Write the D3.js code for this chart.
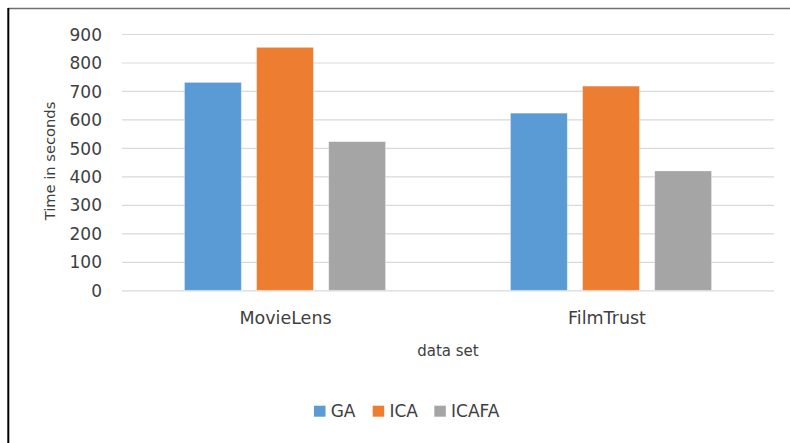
<!DOCTYPE html>
<html>
<head>
<meta charset="utf-8">
<script src="https://cdn.jsdelivr.net/npm/d3@7"></script>
<style>
  html, body { margin: 0; padding: 0; background: #fff; }
  svg { display: block; font-family: "DejaVu Sans", "Open Sans", sans-serif; }
</style>
</head>
<body>
<svg id="chart" width="790" height="443"></svg>
<script>
const categories = ["MovieLens", "FilmTrust"];
const seriesNames = ["GA", "ICA", "ICAFA"];
const GA = [730, 622];
const ICA = [853, 717];
const ICAFA = [522, 419];
const yTicks = [0, 100, 200, 300, 400, 500, 600, 700, 800, 900];
const colors = ["#5B9BD5", "#ED7D31", "#A5A5A5"];
const yTitle = "Time in seconds";
const xTitle = "data set";

(function () {
const FONT = "'DejaVu Sans', 'Open Sans', sans-serif";
const seriesValues = [GA, ICA, ICAFA];
const data = categories.map((c, i) => ({
  cat: c,
  vals: seriesNames.map((s, j) => ({ s, v: seriesValues[j][i], color: colors[j] }))
}));

const svg = d3.select("#chart");
const W = 790, H = 443;
const pLeft = 122, pRight = 774, pTop = 34, pBottom = 290.3;

// frame
svg.append("line").attr("x1", 8).attr("x2", W).attr("y1", 8.6).attr("y2", 8.6)
  .attr("stroke", "#707070").attr("stroke-width", 1.5);
svg.append("line").attr("x1", 8.3).attr("x2", 8.3).attr("y1", 7.9).attr("y2", H)
  .attr("stroke", "#000").attr("stroke-width", 2);

const x = d3.scaleBand().domain(categories).range([pLeft, pRight]).paddingInner(0).paddingOuter(0);
const y = d3.scaleLinear().domain([0, 900]).range([pBottom, pTop]);

// gridlines + tick labels
const yAxis = d3.axisLeft(y).tickValues(yTicks).tickSize(-(pRight - pLeft)).tickPadding(20).tickFormat(d3.format("d"));
const gy = svg.append("g").attr("transform", `translate(${pLeft},0)`).call(yAxis);
gy.select(".domain").remove();
gy.selectAll(".tick line").attr("stroke", "#D9D9D9").attr("stroke-width", 1.2);
gy.selectAll(".tick text").attr("fill", "#404040").style("font-size", "17px")
  .style("font-family", FONT).attr("dy", "0.36em");

// bars
const groupW = 201;
const inner = d3.scaleBand().domain(seriesNames).range([0, groupW]).paddingInner(0.2125).paddingOuter(0);

const g = svg.append("g");
data.forEach(d => {
  const gx0 = x(d.cat) + (x.bandwidth() - groupW) / 2;
  g.selectAll(null).data(d.vals).enter().append("rect")
    .attr("x", v => gx0 + inner(v.s))
    .attr("width", inner.bandwidth())
    .attr("y", v => y(v.v))
    .attr("height", v => y(0) - y(v.v))
    .attr("fill", v => v.color)
    .attr("stroke", "rgba(255,255,255,0.35)")
    .attr("stroke-width", 0.8);
});

// x axis labels
const xAxis = d3.axisBottom(x).tickSize(0).tickPadding(0);
const gxa = svg.append("g").attr("transform", `translate(0,${pBottom})`).call(xAxis);
gxa.select(".domain").remove();
gxa.selectAll(".tick text").attr("fill", "#404040").style("font-size", "17.5px")
  .style("font-family", FONT).attr("dy", null).attr("y", 33.5)
  .attr("dx", (d, i) => i === 1 ? -4 : 0.5);

// axis titles
svg.append("text").attr("x", (pLeft + pRight) / 2).attr("y", 355.5).attr("text-anchor", "middle")
  .attr("fill", "#404040").style("font-size", "15px").text(xTitle);
svg.append("text").attr("transform", "translate(54.5,161) rotate(-90)").attr("text-anchor", "middle")
  .attr("fill", "#404040").style("font-size", "14.7px").text(yTitle);

// legend
const legendItems = [
  { name: seriesNames[0], color: colors[0], x: 314 },
  { name: seriesNames[1], color: colors[1], x: 372.7 },
  { name: seriesNames[2], color: colors[2], x: 434.3 }
];
const lg = svg.append("g");
legendItems.forEach(it => {
  lg.append("rect").attr("x", it.x).attr("y", 405.7).attr("width", 11.5).attr("height", 11).attr("fill", it.color);
  lg.append("text").attr("x", it.x + 16.7).attr("y", 417.3).attr("fill", "#404040")
    .style("font-size", "17px").text(it.name);
});
})();
</script>
</body>
</html>
